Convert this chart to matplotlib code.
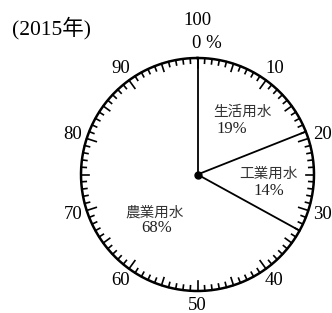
import numpy as np
import matplotlib.pyplot as plt

plt.rcParams['font.family'] = ['Liberation Serif', 'Noto Sans CJK JP']

# data
categories = ['生活用水', '工業用水', '農業用水']
shares = [19, 14, 68]
boundaries = [0, 19, 33]
scale_labels = [10, 20, 30, 40, 50, 60, 70, 80, 90]
# label spots: x name, y name, x pct, y pct
label_pos = [(242, 112, 232, 129), (268, 174, 269, 191), (155, 213, 157, 228)]

cx, cy, r = 197.5, 174.5, 116.5

fig = plt.figure(figsize=(3.32, 3.13), dpi=100)
ax = fig.add_axes([0, 0, 1, 1])
ax.set_xlim(0, 332)
ax.set_ylim(313, 0)
ax.set_aspect('equal')
ax.axis('off')

def pt(v, rad):
    a = np.deg2rad(v * 3.6)
    return cx + rad * np.sin(a), cy - rad * np.cos(a)

# circle
t = np.linspace(0, 100, 400)
xs, ys = pt(t, r)
ax.plot(xs, ys, color='black', lw=1.8)

# ticks
for i in range(100):
    if i % 10 == 0:
        ln = 10
    elif i % 5 == 0:
        ln = 8
    else:
        ln = 5
    x0, y0 = pt(i, r)
    x1, y1 = pt(i, r - ln)
    ax.plot([x0, x1], [y0, y1], color='black', lw=1.2)

# segment lines
for b in boundaries:
    x1, y1 = pt(b, r)
    ax.plot([cx, x1], [cy, y1], color='black', lw=1.3)
ax.plot(cx, cy, 'o', color='black', ms=5)

# scale numbers
for v in scale_labels:
    x, y = pt(v, 131)
    ax.text(x, y, str(v), ha='center', va='center', fontsize=13.5)
ax.text(cx, 20.5, '100', ha='center', va='center', fontsize=13.5)
ax.text(cx - 5, 43, '0 %', ha='left', va='center', fontsize=13.5)

# slice labels
for name, val, (xn, yn, xp, yp) in zip(categories, shares, label_pos):
    ax.text(xn, yn, name, ha='center', va='center', fontsize=10.5,
            family=['Noto Sans CJK JP'], color='#333333')
    ax.text(xp, yp, f'{val}%', ha='center', va='center', fontsize=12,
            color='#222222')

ax.text(12, 28, '(2015年)', ha='left', va='center', fontsize=15.5)

fig.savefig('out.png', dpi=100)
